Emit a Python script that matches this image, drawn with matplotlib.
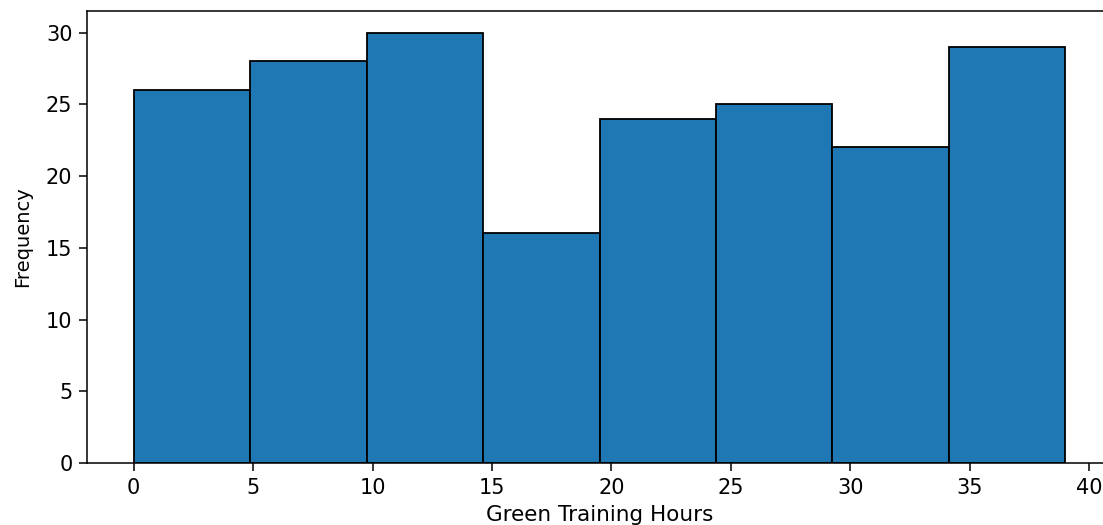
import numpy as np
import matplotlib.pyplot as plt

# training hours histogram: 8 equal bins between 0 and 39 h
bin_edges = np.linspace(0, 39, 9)
counts = [26, 28, 30, 16, 24, 25, 22, 29]

fig = plt.figure(figsize=(11.03, 5.25), dpi=100)
ax = fig.add_axes([87 / 1103, 1 - 463 / 525, (1112 - 87) / 1103, (463 - 11) / 525])

ax.hist(bin_edges[:-1], bins=bin_edges, weights=counts,
        color='#1f77b4', edgecolor='black', linewidth=1.3)

ax.set_xlabel('Green Training Hours', fontsize=15.5, labelpad=5)
ax.set_ylabel('Frequency', fontsize=14, labelpad=10)
ax.tick_params(labelsize=15, length=5.5, width=1.1, pad=5)
for s in ax.spines.values():
    s.set_linewidth(1.1)

fig.savefig('out.png', dpi=100)
